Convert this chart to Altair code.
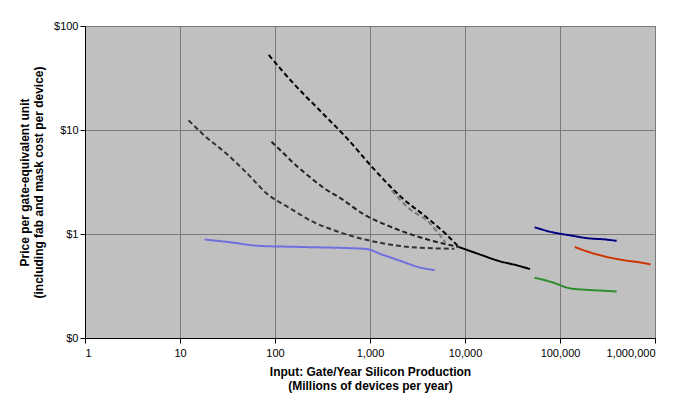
import altair as alt
import pandas as pd

# ---- data (log-log chart) ----
s1_x = [86, 157, 301, 577, 1102, 2109, 4034, 6220, 8600]
s1_y = [52.7, 27.9, 15.2, 8.25, 4.2, 2.28, 1.42, 1.01, 0.75]

s2_x = [12.3, 18.1, 31.1, 53.4, 82.3, 141, 243, 464, 888, 2618, 7710]
s2_y = [12.4, 8.83, 5.88, 3.66, 2.44, 1.79, 1.33, 1.05, 0.885, 0.75, 0.72]

s3_x = [91.8, 121.6, 157, 243, 335, 464, 888, 1698, 4034, 8600]
s3_y = [7.71, 6.04, 4.80, 3.42, 2.72, 2.28, 1.52, 1.16, 0.885, 0.75]

s4_x = [1698, 2618, 4034, 6220]
s4_y = [2.61, 1.74, 1.33, 0.83]

s5_x = [8600, 14750, 22750, 35060, 48450]
s5_y = [0.75, 0.63, 0.55, 0.50, 0.46]

s6_x = [18.1, 34.7, 66.3, 195, 888, 1368, 2109, 3250, 4797]
s6_y = [0.885, 0.83, 0.77, 0.75, 0.72, 0.63, 0.55, 0.48, 0.45]

s7_x = [54000, 83200, 128200, 197700, 304700, 394800]
s7_y = [1.16, 1.04, 0.97, 0.91, 0.885, 0.86]

s8_x = [142900, 197700, 304700, 469000, 722800, 897000]
s8_y = [0.75, 0.675, 0.605, 0.56, 0.53, 0.51]

s9_x = [54000, 83200, 128200, 197700, 304700, 394800]
s9_y = [0.38, 0.343, 0.30, 0.29, 0.284, 0.28]

series_names = ["Series 1", "Series 2", "Series 3", "Series 4", "Series 5",
                "Series 6", "Series 7", "Series 8", "Series 9"]
series_colors = ["#000000", "#333333", "#222222", "#777777", "#000000",
                 "#6f6fe0", "#000080", "#cc3300", "#2e8b2e"]
series_dash = ["dash", "dash", "dash", "dash", "solid",
               "solid", "solid", "solid", "solid"]

x_ticks = [1, 10, 100, 1000, 10000, 100000, 1000000]
y_ticks = [0.1, 1, 10, 100]

xs = [s1_x, s2_x, s3_x, s4_x, s5_x, s6_x, s7_x, s8_x, s9_x]
ys = [s1_y, s2_y, s3_y, s4_y, s5_y, s6_y, s7_y, s8_y, s9_y]

rows = []
for name, dash, sx, sy in zip(series_names, series_dash, xs, ys):
    for i, (a, b) in enumerate(zip(sx, sy)):
        rows.append({"series": name, "dash": dash, "order": i, "x": a, "y": b})
df = pd.DataFrame(rows)

FONT = "Liberation Sans"

chart = alt.Chart(df).mark_line(strokeWidth=2, interpolate="monotone").encode(
    x=alt.X("x:Q",
            scale=alt.Scale(type="log", domain=[1, 1000000], nice=False),
            axis=alt.Axis(values=x_ticks, labelExpr="format(datum.value, ',')",
                          title=["Input: Gate/Year Silicon Production",
                                 "(Millions of devices per year)"],
                          grid=True, gridColor="#7a7a7a", gridWidth=1,
                          domainColor="#000000", tickColor="#000000",
                          labelFont=FONT, titleFont=FONT, labelFontSize=11,
                          titleFontSize=12, labelColor="#000", titleColor="#000",
                          titlePadding=8, labelPadding=4)),
    y=alt.Y("y:Q",
            scale=alt.Scale(type="log", domain=[0.1, 100], nice=False),
            axis=alt.Axis(values=y_ticks,
                          labelExpr="'$' + format(datum.value, ',.0f')",
                          title=["Price per gate-equivalent unit",
                                 "(including fab and mask cost per device)"],
                          grid=True, gridColor="#7a7a7a", gridWidth=1,
                          domainColor="#000000", tickColor="#000000",
                          labelFont=FONT, titleFont=FONT, labelFontSize=11,
                          titleFontSize=12, labelColor="#000", titleColor="#000",
                          titlePadding=8)),
    color=alt.Color("series:N", scale=alt.Scale(domain=series_names, range=series_colors),
                    legend=None),
    strokeDash=alt.StrokeDash("dash:N",
                              scale=alt.Scale(domain=["dash", "solid"],
                                              range=[[5, 3], [1, 0]]),
                              legend=None),
    detail="series:N",
    order="order:Q",
).properties(
    width=689 - 16,
    height=405 - 16,
    autosize=alt.AutoSizeParams(type="fit", contains="padding"),
    background="#ffffff",
    padding={"left": 10, "right": 25, "top": 12, "bottom": 6},
).configure_view(
    fill="#c0c0c0", stroke="#808080"
)

chart.save("out.html", embed_options={"renderer": "svg", "actions": False})
